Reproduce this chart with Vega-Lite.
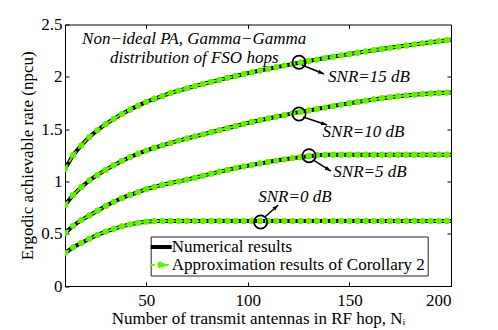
{
  "$schema": "https://vega.github.io/schema/vega-lite/v6.json",
  "width": 386,
  "height": 261.5,
  "autosize": {"type": "none"},
  "padding": {"left": 65, "top": 24.5, "right": 47, "bottom": 44},
  "background": "white",
  "config": {
    "view": {"stroke": "black", "strokeWidth": 1},
    "axis": {
      "domainColor": "black", "tickColor": "black", "labelColor": "black", "titleColor": "black",
      "labelFont": "Liberation Serif", "titleFont": "Liberation Serif",
      "labelFontSize": 17, "titleFontSize": 17, "titleFontWeight": "normal",
      "grid": false, "tickSize": -4, "labelPadding": 10
    }
  },
  "datasets": {
    "curves": [
      {"snr": "15", "x": 10, "y": 1.12}, {"snr": "15", "x": 14, "y": 1.25}, {"snr": "15", "x": 18, "y": 1.345}, {"snr": "15", "x": 22, "y": 1.425},
      {"snr": "15", "x": 26, "y": 1.49}, {"snr": "15", "x": 30, "y": 1.547}, {"snr": "15", "x": 34, "y": 1.598}, {"snr": "15", "x": 38, "y": 1.644},
      {"snr": "15", "x": 42, "y": 1.686}, {"snr": "15", "x": 46, "y": 1.724}, {"snr": "15", "x": 50, "y": 1.76}, {"snr": "15", "x": 54, "y": 1.79},
      {"snr": "15", "x": 58, "y": 1.818}, {"snr": "15", "x": 62, "y": 1.845}, {"snr": "15", "x": 66, "y": 1.868}, {"snr": "15", "x": 70, "y": 1.89},
      {"snr": "15", "x": 74, "y": 1.911}, {"snr": "15", "x": 78, "y": 1.932}, {"snr": "15", "x": 82, "y": 1.952}, {"snr": "15", "x": 86, "y": 1.971},
      {"snr": "15", "x": 90, "y": 1.99}, {"snr": "15", "x": 94, "y": 2.008}, {"snr": "15", "x": 98, "y": 2.026}, {"snr": "15", "x": 102, "y": 2.043},
      {"snr": "15", "x": 106, "y": 2.06}, {"snr": "15", "x": 110, "y": 2.076}, {"snr": "15", "x": 114, "y": 2.092}, {"snr": "15", "x": 118, "y": 2.107},
      {"snr": "15", "x": 122, "y": 2.122}, {"snr": "15", "x": 126, "y": 2.137}, {"snr": "15", "x": 130, "y": 2.151}, {"snr": "15", "x": 134, "y": 2.165},
      {"snr": "15", "x": 138, "y": 2.179}, {"snr": "15", "x": 142, "y": 2.192}, {"snr": "15", "x": 146, "y": 2.205}, {"snr": "15", "x": 150, "y": 2.218},
      {"snr": "15", "x": 154, "y": 2.23}, {"snr": "15", "x": 158, "y": 2.242}, {"snr": "15", "x": 162, "y": 2.254}, {"snr": "15", "x": 166, "y": 2.266},
      {"snr": "15", "x": 170, "y": 2.277}, {"snr": "15", "x": 174, "y": 2.288}, {"snr": "15", "x": 178, "y": 2.299}, {"snr": "15", "x": 182, "y": 2.31},
      {"snr": "15", "x": 186, "y": 2.32}, {"snr": "15", "x": 190, "y": 2.33}, {"snr": "15", "x": 194, "y": 2.34}, {"snr": "15", "x": 198, "y": 2.35},
      {"snr": "15", "x": 200, "y": 2.355},
      {"snr": "10", "x": 10, "y": 0.775}, {"snr": "10", "x": 14, "y": 0.87}, {"snr": "10", "x": 18, "y": 0.945}, {"snr": "10", "x": 22, "y": 1.01},
      {"snr": "10", "x": 26, "y": 1.062}, {"snr": "10", "x": 30, "y": 1.11}, {"snr": "10", "x": 34, "y": 1.155}, {"snr": "10", "x": 38, "y": 1.195},
      {"snr": "10", "x": 42, "y": 1.232}, {"snr": "10", "x": 46, "y": 1.265}, {"snr": "10", "x": 50, "y": 1.295}, {"snr": "10", "x": 54, "y": 1.322},
      {"snr": "10", "x": 58, "y": 1.345}, {"snr": "10", "x": 62, "y": 1.368}, {"snr": "10", "x": 66, "y": 1.39}, {"snr": "10", "x": 70, "y": 1.41},
      {"snr": "10", "x": 74, "y": 1.43}, {"snr": "10", "x": 78, "y": 1.45}, {"snr": "10", "x": 82, "y": 1.47}, {"snr": "10", "x": 86, "y": 1.49},
      {"snr": "10", "x": 90, "y": 1.51}, {"snr": "10", "x": 94, "y": 1.53}, {"snr": "10", "x": 98, "y": 1.55}, {"snr": "10", "x": 102, "y": 1.568},
      {"snr": "10", "x": 106, "y": 1.585}, {"snr": "10", "x": 110, "y": 1.602}, {"snr": "10", "x": 114, "y": 1.618}, {"snr": "10", "x": 118, "y": 1.634},
      {"snr": "10", "x": 122, "y": 1.65}, {"snr": "10", "x": 126, "y": 1.665}, {"snr": "10", "x": 130, "y": 1.678}, {"snr": "10", "x": 134, "y": 1.692},
      {"snr": "10", "x": 138, "y": 1.706}, {"snr": "10", "x": 142, "y": 1.72}, {"snr": "10", "x": 146, "y": 1.734}, {"snr": "10", "x": 150, "y": 1.747},
      {"snr": "10", "x": 154, "y": 1.76}, {"snr": "10", "x": 158, "y": 1.772}, {"snr": "10", "x": 162, "y": 1.784}, {"snr": "10", "x": 166, "y": 1.795},
      {"snr": "10", "x": 170, "y": 1.805}, {"snr": "10", "x": 174, "y": 1.814}, {"snr": "10", "x": 178, "y": 1.822}, {"snr": "10", "x": 182, "y": 1.829},
      {"snr": "10", "x": 186, "y": 1.835}, {"snr": "10", "x": 190, "y": 1.84}, {"snr": "10", "x": 194, "y": 1.845}, {"snr": "10", "x": 198, "y": 1.849},
      {"snr": "10", "x": 200, "y": 1.851},
      {"snr": "5", "x": 10, "y": 0.505}, {"snr": "5", "x": 14, "y": 0.575}, {"snr": "5", "x": 18, "y": 0.63}, {"snr": "5", "x": 22, "y": 0.675},
      {"snr": "5", "x": 26, "y": 0.72}, {"snr": "5", "x": 30, "y": 0.765}, {"snr": "5", "x": 34, "y": 0.805}, {"snr": "5", "x": 38, "y": 0.84},
      {"snr": "5", "x": 42, "y": 0.87}, {"snr": "5", "x": 46, "y": 0.898}, {"snr": "5", "x": 50, "y": 0.925}, {"snr": "5", "x": 54, "y": 0.948},
      {"snr": "5", "x": 58, "y": 0.968}, {"snr": "5", "x": 62, "y": 0.985}, {"snr": "5", "x": 66, "y": 1.0}, {"snr": "5", "x": 70, "y": 1.017},
      {"snr": "5", "x": 74, "y": 1.036}, {"snr": "5", "x": 78, "y": 1.055}, {"snr": "5", "x": 82, "y": 1.074}, {"snr": "5", "x": 86, "y": 1.093},
      {"snr": "5", "x": 90, "y": 1.11}, {"snr": "5", "x": 94, "y": 1.127}, {"snr": "5", "x": 98, "y": 1.143}, {"snr": "5", "x": 102, "y": 1.158},
      {"snr": "5", "x": 106, "y": 1.172}, {"snr": "5", "x": 110, "y": 1.186}, {"snr": "5", "x": 114, "y": 1.199}, {"snr": "5", "x": 118, "y": 1.211},
      {"snr": "5", "x": 122, "y": 1.222}, {"snr": "5", "x": 126, "y": 1.232}, {"snr": "5", "x": 130, "y": 1.241}, {"snr": "5", "x": 134, "y": 1.25},
      {"snr": "5", "x": 138, "y": 1.254}, {"snr": "5", "x": 142, "y": 1.255}, {"snr": "5", "x": 146, "y": 1.255}, {"snr": "5", "x": 150, "y": 1.255},
      {"snr": "5", "x": 154, "y": 1.255}, {"snr": "5", "x": 158, "y": 1.255}, {"snr": "5", "x": 162, "y": 1.255}, {"snr": "5", "x": 166, "y": 1.255},
      {"snr": "5", "x": 170, "y": 1.255}, {"snr": "5", "x": 174, "y": 1.255}, {"snr": "5", "x": 178, "y": 1.255}, {"snr": "5", "x": 182, "y": 1.255},
      {"snr": "5", "x": 186, "y": 1.255}, {"snr": "5", "x": 190, "y": 1.255}, {"snr": "5", "x": 194, "y": 1.255}, {"snr": "5", "x": 198, "y": 1.255},
      {"snr": "5", "x": 200, "y": 1.255},
      {"snr": "0", "x": 10, "y": 0.315}, {"snr": "0", "x": 14, "y": 0.37}, {"snr": "0", "x": 18, "y": 0.412}, {"snr": "0", "x": 22, "y": 0.452},
      {"snr": "0", "x": 26, "y": 0.488}, {"snr": "0", "x": 30, "y": 0.52}, {"snr": "0", "x": 34, "y": 0.547}, {"snr": "0", "x": 38, "y": 0.57},
      {"snr": "0", "x": 42, "y": 0.589}, {"snr": "0", "x": 46, "y": 0.604}, {"snr": "0", "x": 50, "y": 0.615}, {"snr": "0", "x": 54, "y": 0.621},
      {"snr": "0", "x": 58, "y": 0.622}, {"snr": "0", "x": 62, "y": 0.622}, {"snr": "0", "x": 66, "y": 0.622}, {"snr": "0", "x": 70, "y": 0.622},
      {"snr": "0", "x": 74, "y": 0.622}, {"snr": "0", "x": 78, "y": 0.622}, {"snr": "0", "x": 82, "y": 0.622}, {"snr": "0", "x": 86, "y": 0.622},
      {"snr": "0", "x": 90, "y": 0.622}, {"snr": "0", "x": 94, "y": 0.622}, {"snr": "0", "x": 98, "y": 0.622}, {"snr": "0", "x": 102, "y": 0.622},
      {"snr": "0", "x": 106, "y": 0.622}, {"snr": "0", "x": 110, "y": 0.622}, {"snr": "0", "x": 114, "y": 0.622}, {"snr": "0", "x": 118, "y": 0.622},
      {"snr": "0", "x": 122, "y": 0.622}, {"snr": "0", "x": 126, "y": 0.622}, {"snr": "0", "x": 130, "y": 0.622}, {"snr": "0", "x": 134, "y": 0.622},
      {"snr": "0", "x": 138, "y": 0.622}, {"snr": "0", "x": 142, "y": 0.622}, {"snr": "0", "x": 146, "y": 0.622}, {"snr": "0", "x": 150, "y": 0.622},
      {"snr": "0", "x": 154, "y": 0.622}, {"snr": "0", "x": 158, "y": 0.622}, {"snr": "0", "x": 162, "y": 0.622}, {"snr": "0", "x": 166, "y": 0.622},
      {"snr": "0", "x": 170, "y": 0.622}, {"snr": "0", "x": 174, "y": 0.622}, {"snr": "0", "x": 178, "y": 0.622}, {"snr": "0", "x": 182, "y": 0.622},
      {"snr": "0", "x": 186, "y": 0.622}, {"snr": "0", "x": 190, "y": 0.622}, {"snr": "0", "x": 194, "y": 0.622}, {"snr": "0", "x": 198, "y": 0.622},
      {"snr": "0", "x": 200, "y": 0.622}
    ],
    "circles": [
      {"snr": "15", "x": 125.2, "y": 2.139},
      {"snr": "10", "x": 125.2, "y": 1.644},
      {"snr": "5", "x": 130.1, "y": 1.246},
      {"snr": "0", "x": 106.3, "y": 0.612}
    ],
    "arrows": [
      {"snr": "15", "x": 126.7, "y": 2.113, "x2": 137.5, "y2": 2.027},
      {"snr": "10", "x": 127.2, "y": 1.616, "x2": 139.0, "y2": 1.539},
      {"snr": "5", "x": 132.1, "y": 1.205, "x2": 140.9, "y2": 1.099},
      {"snr": "0", "x": 108.4, "y": 0.66, "x2": 115.0, "y2": 0.774}
    ],
    "snrlabels": [
      {"text": "SNR=15 dB", "x": 139.5, "y": 2.001},
      {"text": "SNR=10 dB", "x": 136.8, "y": 1.475},
      {"text": "SNR=5 dB", "x": 142.1, "y": 1.093},
      {"text": "SNR=0 dB", "x": 105.1, "y": 0.848}
    ],
    "note": [
      {"text": ["Non−ideal PA, Gamma−Gamma", "distribution of FSO hops"], "x": 73.6, "y": 2.357}
    ]
  },
  "layer": [
    {
      "encoding": {
        "x": {"field": "x", "type": "quantitative", "scale": {"domain": [10, 200], "nice": false, "zero": false},
              "axis": {"values": [50, 100, 150, 200], "title": "Number of transmit antennas in RF hop, Nᵢ", "titlePadding": 2}},
        "y": {"field": "y", "type": "quantitative", "scale": {"domain": [0, 2.5], "nice": false},
              "axis": {"values": [0, 0.5, 1, 1.5, 2, 2.5], "format": "~g", "title": "Ergodic achievable rate (npcu)", "titlePadding": 4, "labelPadding": 7}}
      },
      "layer": [
        {
          "data": {"name": "curves"},
          "mark": {"type": "line", "strokeWidth": 4, "clip": true},
          "encoding": {
            "detail": {"field": "snr"},
            "color": {"datum": "Numerical results", "type": "nominal",
              "scale": {"domain": ["Numerical results", "Approximation results of Corollary 2"], "range": ["#000000", "#60f000"]},
              "legend": {
                "orient": "none", "legendX": 85.7, "legendY": 212, "title": null,
                "symbolType": "stroke", "symbolSize": 441, "symbolStrokeWidth": 4,
                "labelFont": "Liberation Serif", "labelFontSize": 17, "labelColor": "black", "labelLimit": 400,
                "labelOffset": 2, "padding": 2, "rowPadding": 0,
                "strokeColor": "#222222", "fillColor": "white",
                "labelExpr": "datum.label + '\u00a0\u00a0'",
                "encode": {"symbols": {"update": {
                  "strokeWidth": {"signal": "datum.value === 'Numerical results' ? 4 : 2"},
                  "strokeDash": {"signal": "datum.value === 'Numerical results' ? [1,0] : [4,3]"},
                  "shape": {"signal": "datum.value === 'Numerical results' ? 'stroke' : 'M-1,0H1M-0.27,0A0.27,0.27,0,1,1,0.27,0A0.27,0.27,0,1,1,-0.27,0Z'"},
                  "fill": {"signal": "datum.value === 'Numerical results' ? 'transparent' : '#60f000'"}
                }}}
              }}
          }
        },
        {
          "data": {"name": "curves"},
          "mark": {"type": "line", "strokeWidth": 2, "strokeDash": [5, 3], "clip": true},
          "encoding": {
            "detail": {"field": "snr"},
            "color": {"datum": "Approximation results of Corollary 2", "type": "nominal"}
          }
        },
        {
          "data": {"name": "curves"},
          "transform": [{"filter": "datum.x < 200"}],
          "mark": {"type": "point", "filled": true, "size": 40, "color": "#60f000", "opacity": 1, "clip": true},
          "encoding": {"detail": {"field": "snr"}}
        },
        {
          "data": {"name": "circles"},
          "mark": {"type": "point", "shape": "circle", "filled": false, "size": 175, "color": "black", "strokeWidth": 1.7, "opacity": 1},
          "encoding": {}
        },
        {
          "data": {"name": "arrows"},
          "mark": {"type": "rule", "color": "black", "strokeWidth": 1.5},
          "encoding": {"x2": {"field": "x2"}, "y2": {"field": "y2"}}
        },
        {
          "data": {"name": "arrows"},
          "mark": {"type": "point", "shape": "M0,0L-1,3L1,3Z", "filled": true, "size": 16, "color": "black", "opacity": 1},
          "encoding": {
            "x": {"field": "x2", "type": "quantitative"},
            "y": {"field": "y2", "type": "quantitative"},
            "angle": {"condition": [
              {"test": "datum.snr === '15'", "value": 112},
              {"test": "datum.snr === '10'", "value": 108},
              {"test": "datum.snr === '5'", "value": 121}
            ], "value": 48}
          }
        },
        {
          "data": {"name": "snrlabels"},
          "mark": {"type": "text", "align": "left", "baseline": "middle", "font": "Liberation Serif", "fontStyle": "italic", "fontSize": 17, "color": "black"},
          "encoding": {"text": {"field": "text"}}
        },
        {
          "data": {"name": "note"},
          "mark": {"type": "text", "align": "center", "baseline": "middle", "lineHeight": 19, "font": "Liberation Serif", "fontStyle": "italic", "fontSize": 17, "color": "black"},
          "encoding": {"text": {"field": "text"}}
        }
      ]
    },
    {
      "data": {"name": "circles"},
      "mark": {"type": "point", "opacity": 0},
      "encoding": {
        "x": {"field": "x", "type": "quantitative", "axis": {"orient": "top", "values": [50, 100, 150], "labels": false, "title": null, "domain": false}},
        "y": {"field": "y", "type": "quantitative", "axis": {"orient": "right", "values": [0.5, 1, 1.5, 2], "labels": false, "title": null, "domain": false}}
      }
    }
  ],
  "resolve": {"axis": {"x": "independent", "y": "independent"}}
}
